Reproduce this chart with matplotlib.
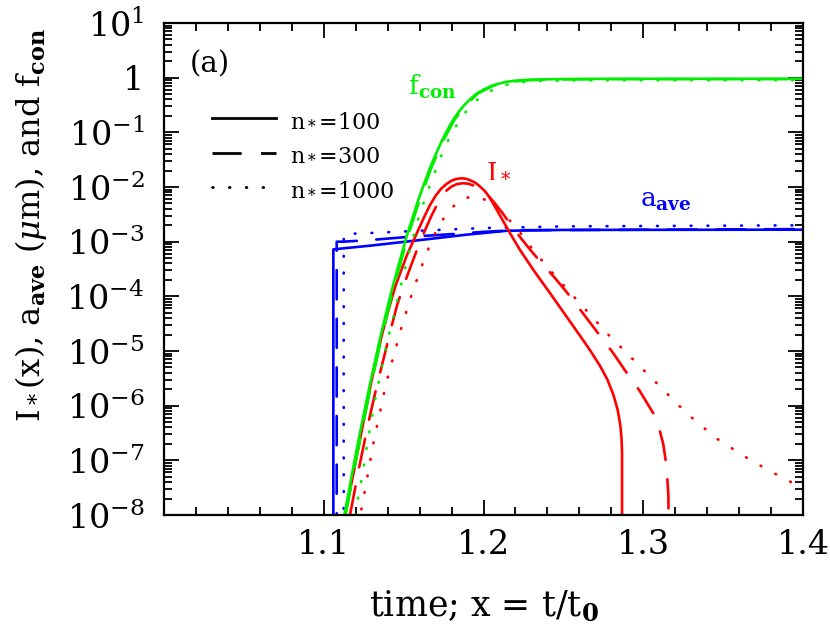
import matplotlib
matplotlib.use('Agg')
import matplotlib.pyplot as plt
import numpy as np
from matplotlib.lines import Line2D
from matplotlib.ticker import FixedLocator, MultipleLocator, LogLocator, NullFormatter

plt.rcParams['font.family'] = 'DejaVu Serif'
plt.rcParams['mathtext.fontset'] = 'dejavuserif'
plt.rcParams['lines.scale_dashes'] = False

# values: x = t/t0, log10 of the quantity
fcon100_x = [1.1129, 1.1155, 1.1180, 1.1205, 1.1230, 1.1260, 1.1290, 1.1320, 1.1350, 1.1385,
             1.1420, 1.1470, 1.1519, 1.1555, 1.1590, 1.1628, 1.1665, 1.1703, 1.1740, 1.1775,
             1.1810, 1.1845, 1.1880, 1.1918, 1.1957, 1.2003, 1.2050, 1.2097, 1.2145, 1.2210,
             1.2280, 1.2360, 1.2435, 1.2600, 1.2800, 1.4000]
fcon100_logy = [-8.0, -7.6, -7.2, -6.82, -6.45, -6.02, -5.6, -5.2, -4.8, -4.37,
                -3.95, -3.41, -2.9, -2.57, -2.25, -1.94, -1.65, -1.39, -1.15, -0.95,
                -0.77, -0.625, -0.5, -0.39, -0.29, -0.215, -0.15, -0.108, -0.075, -0.052,
                -0.04, -0.032, -0.027, -0.023, -0.021, -0.02]
fcon300_x = [1.1137, 1.1188, 1.1238, 1.1298, 1.1358, 1.1428, 1.1527, 1.1598, 1.1673, 1.1748,
             1.1818, 1.1888, 1.1965, 1.2058, 1.2153, 1.2288, 1.2443, 1.2800, 1.4000]
fcon300_logy = [-8.0, -7.2, -6.45, -5.6, -4.8, -3.95, -2.9, -2.25, -1.65, -1.15,
                -0.77, -0.5, -0.29, -0.15, -0.078, -0.045, -0.032, -0.027, -0.025]
fcon1000_x = [1.1195, 1.1236, 1.1275, 1.1317, 1.1350, 1.1380, 1.1413, 1.1446, 1.1488, 1.1530,
              1.1565, 1.1600, 1.1640, 1.1680, 1.1725, 1.1770, 1.1810, 1.1850, 1.1885, 1.1920,
              1.1960, 1.2000, 1.2050, 1.2100, 1.2160, 1.2220, 1.2300, 1.2380, 1.2600, 1.4000]
fcon1000_logy = [-8.0, -7.36, -6.65, -5.95, -5.48, -5.05, -4.64, -4.25, -3.74, -3.25,
                 -2.86, -2.5, -2.16, -1.85, -1.5, -1.195, -0.975, -0.78, -0.64, -0.52,
                 -0.41, -0.32, -0.235, -0.17, -0.12, -0.09, -0.068, -0.058, -0.048, -0.045]

istar100_x = [1.1133, 1.1185, 1.1235, 1.1295, 1.1360, 1.1405, 1.1450, 1.1520, 1.1582, 1.1625,
              1.1665, 1.1700, 1.1735, 1.1770, 1.1800, 1.1830, 1.1862, 1.1890, 1.1920, 1.1950,
              1.1978, 1.2010, 1.2040, 1.2070, 1.2103, 1.2165, 1.2228, 1.2320, 1.2416, 1.2510,
              1.2604, 1.2670, 1.2729, 1.2775, 1.2813, 1.2840, 1.2856, 1.2864, 1.2867, 1.2867]
istar100_logy = [-8.0, -7.25, -6.5, -5.6, -4.75, -4.25, -3.8, -3.25, -2.85, -2.57,
                 -2.33, -2.16, -2.03, -1.94, -1.885, -1.852, -1.84, -1.848, -1.88, -1.925,
                 -1.99, -2.08, -2.2, -2.35, -2.52, -2.84, -3.15, -3.55, -3.94, -4.33,
                 -4.72, -5.0, -5.27, -5.52, -5.8, -6.08, -6.35, -6.6, -6.85, -8.5]
istar300_x = [1.1164, 1.1220, 1.1280, 1.1335, 1.1383, 1.1420, 1.1460, 1.1510, 1.1560, 1.1600,
              1.1640, 1.1675, 1.1710, 1.1740, 1.1770, 1.1800, 1.1835, 1.1873, 1.1905, 1.1940,
              1.1970, 1.2000, 1.2030, 1.2060, 1.2090, 1.2120, 1.2175, 1.2230, 1.2290, 1.2354,
              1.2437, 1.2520, 1.2620, 1.2729, 1.2810, 1.2880, 1.2980, 1.3063, 1.3100, 1.3125,
              1.3146, 1.3157, 1.3160]
istar300_logy = [-8.0, -7.15, -6.3, -5.6, -5.04, -4.6, -4.15, -3.72, -3.33, -3.02,
                 -2.75, -2.52, -2.32, -2.17, -2.06, -1.99, -1.945, -1.93, -1.94, -1.975,
                 -2.02, -2.08, -2.16, -2.26, -2.37, -2.48, -2.71, -2.92, -3.14, -3.36,
                 -3.63, -3.92, -4.3, -4.72, -5.03, -5.33, -5.74, -6.14, -6.42, -6.7,
                 -7.12, -7.63, -8.5]
istar1000_x = [1.1220, 1.1231, 1.1258, 1.1317, 1.1393, 1.1487, 1.1560, 1.1643, 1.1720, 1.1800,
               1.1870, 1.1905, 1.1936, 1.1970, 1.2000, 1.2050, 1.2100, 1.2200, 1.2310, 1.2437,
               1.2604, 1.2771, 1.2938, 1.3105, 1.3272, 1.3459, 1.3668, 1.3877, 1.4000]
istar1000_logy = [-8.2, -7.96, -7.54, -6.59, -5.56, -4.56, -3.88, -3.21, -2.70, -2.38,
                  -2.22, -2.19, -2.18, -2.19, -2.22, -2.3, -2.42, -2.72, -3.15, -3.59,
                  -4.13, -4.67, -5.16, -5.65, -6.14, -6.60, -6.99, -7.33, -7.5]

aave100_x = [1.1060, 1.1060, 1.1300, 1.1603, 1.1900, 1.2145, 1.2500, 1.4000]
aave100_logy = [-8.5, -3.14, -3.07, -2.97, -2.87, -2.80, -2.785, -2.78]
aave300_x = [1.1081, 1.1081, 1.1122, 1.1290, 1.1540, 1.1810, 1.2000, 1.2200, 1.4000]
aave300_logy = [-8.5, -3.0, -3.0, -2.97, -2.91, -2.86, -2.82, -2.79, -2.77]
aave1000_x = [1.1125, 1.1125, 1.1300, 1.1600, 1.2000, 1.2500, 1.4000]
aave1000_logy = [-8.5, -2.86, -2.84, -2.80, -2.75, -2.72, -2.70]

xtick_vals = [1.1, 1.2, 1.3, 1.4]
xtick_labels = ['1.1', '1.2', '1.3', '1.4']
ytick_vals = [1e-8, 1e-7, 1e-6, 1e-5, 1e-4, 1e-3, 1e-2, 1e-1, 1, 10]
ytick_labels = [r'$10^{-8}$', r'$10^{-7}$', r'$10^{-6}$', r'$10^{-5}$', r'$10^{-4}$',
                r'$10^{-3}$', r'$10^{-2}$', r'$10^{-1}$', '1', r'$10^{1}$']

green = '#00ee00'
red = '#ff0000'
blue = '#0000ff'
solid = '-'
dashed = (0, (21, 14))
dotted = (0, (0.6, 11.5))

fig = plt.figure(figsize=(8.3, 6.39), dpi=100)
ax = fig.add_axes([0.1976, 0.194, 0.7699, 0.770])

curves = [
    (aave100_x, aave100_logy, blue, solid), (aave300_x, aave300_logy, blue, dashed),
    (aave1000_x, aave1000_logy, blue, dotted),
    (istar100_x, istar100_logy, red, solid), (istar300_x, istar300_logy, red, dashed),
    (istar1000_x, istar1000_logy, red, dotted),
    (fcon100_x, fcon100_logy, green, solid), (fcon300_x, fcon300_logy, green, dashed),
    (fcon1000_x, fcon1000_logy, green, dotted),
]
for xs, ly, col, ls in curves:
    ax.plot(xs, 10.0 ** np.array(ly), color=col, linestyle=ls, lw=1.9,
            dash_capstyle='round', solid_capstyle='butt', solid_joinstyle='round')

ax.set_yscale('log')
ax.set_xlim(1.0, 1.4)
ax.set_ylim(1e-8, 10)

ax.xaxis.set_major_locator(FixedLocator(xtick_vals))
ax.set_xticklabels(xtick_labels)
ax.xaxis.set_minor_locator(MultipleLocator(0.02))
ax.yaxis.set_major_locator(FixedLocator(ytick_vals))
ax.set_yticklabels(ytick_labels)
ax.yaxis.set_minor_locator(LogLocator(base=10, subs=np.arange(2, 10), numticks=50))
ax.yaxis.set_minor_formatter(NullFormatter())

ax.tick_params(which='both', direction='in', top=True, right=True, width=1.3, color='black')
ax.tick_params(which='major', length=11)
ax.tick_params(which='minor', length=5.5)
ax.tick_params(axis='x', which='major', labelsize=24, pad=10)
ax.tick_params(axis='y', which='major', labelsize=24, pad=14)
for sp in ax.spines.values():
    sp.set_linewidth(1.6)

ax.set_xlabel(r'time; x = t/t$_{\mathbf{0}}$', fontsize=25, labelpad=20)
ax.set_ylabel(r'I$_*$(x), a$_{\mathbf{ave}}$ ($\mu$m), and f$_{\mathbf{con}}$', fontsize=23)
ax.yaxis.set_label_coords(-0.18, 0.59)

ax.text(0.041, 0.917, '(a)', transform=ax.transAxes, fontsize=21, va='center', ha='left')
ax.text(1.1527, 0.48, r'f$_{\mathbf{con}}$', color=green, fontsize=19, va='baseline')
ax.text(1.2013, 0.0152, r'I$_*$', color=red, fontsize=19, va='baseline')
ax.text(1.298, 0.0044, r'a$_{\mathbf{ave}}$', color=blue, fontsize=19, va='baseline')

handles = [Line2D([], [], color='black', lw=2, linestyle=solid),
           Line2D([], [], color='black', lw=2, linestyle=dashed),
           Line2D([], [], color='black', lw=2, linestyle=dotted, dash_capstyle='round')]
labels = [r'n$_*$=100', r'n$_*$=300', r'n$_*$=1000']
ax.legend(handles, labels, loc='upper left', bbox_to_anchor=(0.075, 0.825), frameon=False,
          fontsize=16, handlelength=2.9, handletextpad=0.6, labelspacing=0.55,
          borderpad=0, borderaxespad=0)

fig.savefig('out.png', dpi=100)
